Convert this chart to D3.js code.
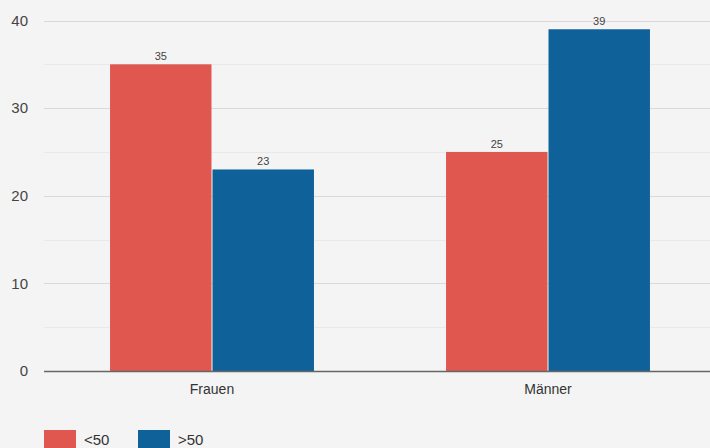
<!DOCTYPE html>
<html>
<head>
<meta charset="utf-8">
<script src="https://cdn.jsdelivr.net/npm/d3@7"></script>
<style>
  body { margin: 0; background: #f4f4f4; }
  svg { display: block; font-family: "Liberation Sans", Arial, sans-serif; }
</style>
</head>
<body>
<svg id="chart"></svg>
<script>
const categories = ['Frauen', 'Männer'];
const seriesNames = ['<50', '>50'];
const under50 = [35, 25];
const over50 = [23, 39];
const yTicks = [0, 10, 20, 30, 40];
const minorTicks = [5, 15, 25, 35];
const colors = ['#e0574f', '#0f6199'];

const w = 710, h = 448;
const plotLeft = 44, plotRight = 716, plotTop = 20.5, plotBottom = 371;

const svg = d3.select('#chart').attr('width', w).attr('height', h);

const y = d3.scaleLinear().domain([0, 40]).range([plotBottom, plotTop]);
const x0 = d3.scaleBand().domain(categories).range([plotLeft, plotRight])
    .paddingInner(0.387).paddingOuter(0.1935);
const x1 = d3.scaleBand().domain(seriesNames).range([0, x0.bandwidth()]).padding(0.01);

// grid lines
svg.selectAll('.minor')
    .data(minorTicks)
    .join('line')
        .attr('x1', plotLeft).attr('x2', w)
        .attr('y1', d => Math.round(y(d)) + 0.5)
        .attr('y2', d => Math.round(y(d)) + 0.5)
        .attr('stroke', '#e9e9e9');

svg.selectAll('.major')
    .data(yTicks.filter(d => d > 0))
    .join('line')
        .attr('x1', plotLeft).attr('x2', w)
        .attr('y1', d => Math.round(y(d)) + 0.5)
        .attr('y2', d => Math.round(y(d)) + 0.5)
        .attr('stroke', '#d9d9d9');

// y tick labels
svg.selectAll('.ylab')
    .data(yTicks)
    .join('text')
        .attr('x', 28)
        .attr('y', d => y(d))
        .attr('dy', '0.35em')
        .attr('text-anchor', 'end')
        .style('font-size', '15px')
        .attr('fill', '#444')
        .text(d => d);

const rows = categories.map((c, i) => ({cat: c, values: [under50[i], over50[i]]}));

const groups = svg.selectAll('.grp')
    .data(rows)
    .join('g')
        .attr('transform', d => `translate(${x0(d.cat)},0)`);

groups.selectAll('rect')
    .data(d => d.values.map((v, j) => ({name: seriesNames[j], value: v, j})))
    .join('rect')
        .attr('x', d => x1(d.name))
        .attr('width', x1.bandwidth())
        .attr('y', d => y(d.value))
        .attr('height', d => plotBottom - y(d.value))
        .attr('fill', d => colors[d.j]);

groups.selectAll('text')
    .data(d => d.values.map((v, j) => ({name: seriesNames[j], value: v})))
    .join('text')
        .attr('x', d => x1(d.name) + x1.bandwidth() / 2)
        .attr('y', d => y(d.value) - 4)
        .attr('text-anchor', 'middle')
        .style('font-size', '11px')
        .attr('fill', '#444')
        .text(d => d.value);

// baseline
svg.append('line')
    .attr('x1', plotLeft).attr('x2', w)
    .attr('y1', plotBottom + 0.5).attr('y2', plotBottom + 0.5)
    .attr('stroke', '#666').attr('stroke-width', 1.5);

// category labels
svg.selectAll('.xlab')
    .data(categories)
    .join('text')
        .attr('x', d => x0(d) + x0.bandwidth() / 2)
        .attr('y', 394)
        .attr('text-anchor', 'middle')
        .style('font-size', '14px')
        .attr('fill', '#333')
        .text(d => d);

// legend
const legend = svg.selectAll('.leg')
    .data(seriesNames)
    .join('g')
        .attr('transform', (d, i) => `translate(${44 + i * 94},430)`);

legend.append('rect')
    .attr('width', 32).attr('height', 20)
    .attr('fill', (d, i) => colors[i]);

legend.append('text')
    .attr('x', 40).attr('y', 15)
    .style('font-size', '15px')
    .attr('fill', '#333')
    .text(d => d);
</script>
</body>
</html>
